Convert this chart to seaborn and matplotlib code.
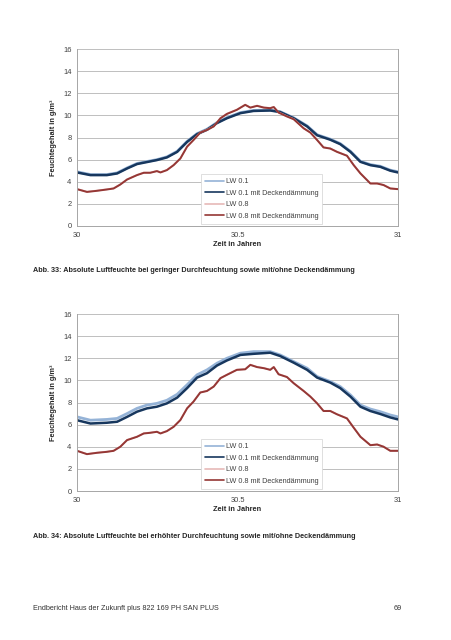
import numpy as np
import pandas as pd
import seaborn as sns
import matplotlib.pyplot as plt

# time axis (years) for the blue and the red curves
t_blue = [30.0, 30.042, 30.093, 30.125, 30.156, 30.187, 30.218, 30.249, 30.280, 30.312,
          30.343, 30.374, 30.405, 30.436, 30.467, 30.509, 30.550, 30.602, 30.633, 30.675,
          30.717, 30.748, 30.789, 30.820, 30.852, 30.883, 30.914, 30.945, 30.976, 31.0]
t_red = [30.0, 30.031, 30.062, 30.093, 30.114, 30.135, 30.156, 30.187, 30.208, 30.228,
         30.249, 30.260, 30.280, 30.301, 30.322, 30.343, 30.363, 30.384, 30.405, 30.426,
         30.447, 30.467, 30.498, 30.524, 30.540, 30.561, 30.582, 30.602, 30.613, 30.628,
         30.654, 30.675, 30.706, 30.727, 30.748, 30.768, 30.789, 30.810, 30.841, 30.862,
         30.883, 30.914, 30.935, 30.955, 30.976, 31.0]

# Abb. 33 - geringe Durchfeuchtung
lw01_a = [4.9, 4.65, 4.65, 4.8, 5.25, 5.65, 5.83, 6.0, 6.25, 6.75, 7.65, 8.35, 8.75, 9.35, 9.8,
          10.25, 10.45, 10.48, 10.33, 9.78, 9.05, 8.25, 7.85, 7.45, 6.75, 5.85, 5.55, 5.4, 5.05, 4.9]
lw01_mit_a = [4.84, 4.6, 4.6, 4.75, 5.2, 5.6, 5.78, 5.96, 6.2, 6.7, 7.6, 8.3, 8.7, 9.3, 9.74,
              10.2, 10.4, 10.44, 10.3, 9.74, 9.0, 8.2, 7.8, 7.4, 6.7, 5.8, 5.5, 5.35, 5.0, 4.84]
lw08_a = [3.35, 3.1, 3.2, 3.32, 3.41, 3.77, 4.22, 4.62, 4.83, 4.83, 4.98, 4.86, 5.07, 5.52, 6.12,
          7.19, 7.79, 8.46, 8.7, 9.02, 9.76, 10.15, 10.52, 10.97, 10.72, 10.88, 10.72, 10.67, 10.77,
          10.27, 9.92, 9.67, 8.85, 8.46, 7.79, 7.12, 7.02, 6.72, 6.37, 5.52, 4.77, 3.86, 3.86, 3.72,
          3.41, 3.35]
lw08_mit_a = [3.33, 3.08, 3.18, 3.3, 3.39, 3.75, 4.2, 4.6, 4.81, 4.81, 4.96, 4.84, 5.05, 5.5, 6.1,
              7.17, 7.77, 8.44, 8.68, 9.0, 9.74, 10.13, 10.5, 10.95, 10.7, 10.86, 10.7, 10.65, 10.75,
              10.25, 9.9, 9.65, 8.83, 8.44, 7.77, 7.1, 7.0, 6.7, 6.35, 5.5, 4.75, 3.84, 3.84, 3.7,
              3.39, 3.33]

# Abb. 34 - erhoehte Durchfeuchtung
lw01_b = [6.7, 6.4, 6.47, 6.56, 7.0, 7.47, 7.77, 7.92, 8.2, 8.74, 9.6, 10.5, 10.95, 11.55, 12.0,
          12.46, 12.6, 12.6, 12.3, 11.7, 11.1, 10.35, 9.9, 9.44, 8.68, 7.77, 7.41, 7.17, 6.87, 6.7]
lw01_mit_b = [6.4, 6.1, 6.17, 6.26, 6.7, 7.17, 7.47, 7.62, 7.92, 8.44, 9.3, 10.25, 10.65, 11.34, 11.8,
              12.3, 12.4, 12.5, 12.2, 11.6, 10.95, 10.25, 9.8, 9.3, 8.53, 7.62, 7.23, 6.96, 6.65, 6.47]
lw08_b = [3.65, 3.35, 3.47, 3.56, 3.65, 4.02, 4.62, 4.92, 5.22, 5.28, 5.37, 5.22, 5.43, 5.82, 6.43,
          7.49, 8.1, 8.92, 9.06, 9.46, 10.22, 10.52, 10.97, 11.02, 11.42, 11.22, 11.12, 10.97, 11.22,
          10.57, 10.32, 9.76, 9.06, 8.55, 7.94, 7.25, 7.25, 6.95, 6.58, 5.74, 4.92, 4.16, 4.22, 4.02,
          3.65, 3.65]
lw08_mit_b = [3.63, 3.33, 3.45, 3.54, 3.63, 4.0, 4.6, 4.9, 5.2, 5.26, 5.35, 5.2, 5.41, 5.8, 6.41,
              7.47, 8.08, 8.9, 9.04, 9.44, 10.2, 10.5, 10.95, 11.0, 11.4, 11.2, 11.1, 10.95, 11.2,
              10.55, 10.3, 9.74, 9.04, 8.53, 7.92, 7.23, 7.23, 6.93, 6.56, 5.72, 4.9, 4.14, 4.2, 4.0,
              3.63, 3.63]

labels = ["LW 0.1", "LW 0.1 mit Deckendämmung", "LW 0.8", "LW 0.8 mit Deckendämmung"]
colors = ["#95B3D7", "#17375E", "#E6B9B8", "#953735"]
widths = [2.0, 1.8, 1.3, 1.4]

captions = ["Abb. 33: Absolute Luftfeuchte bei geringer Durchfeuchtung sowie mit/ohne Deckendämmung",
            "Abb. 34: Absolute Luftfeuchte bei erhöhter Durchfeuchtung sowie mit/ohne Deckendämmung"]
footer = "Endbericht Haus der Zukunft plus 822 169 PH SAN PLUS"
page = "69"

sns.set_style("white")
plt.rcParams['font.family'] = ['Liberation Sans', 'DejaVu Sans']

fig = plt.figure(figsize=(4.52, 6.4), dpi=100)


def draw_chart(ax, series):
    for (t, vals), lab, col, w in zip(series, labels, colors, widths):
        df = pd.DataFrame({"Zeit": t, "Wert": vals})
        sns.lineplot(data=df, x="Zeit", y="Wert", ax=ax, color=col, lw=w, label=lab)
    ax.set_xlim(30, 31)
    ax.set_ylim(0, 16)
    ax.set_xticks([30, 30.5, 31])
    ax.set_xticklabels(["30", "30.5", "31"])
    ax.set_yticks(range(0, 17, 2))
    ax.yaxis.grid(True, color="#BFBFBF", lw=0.7)
    ax.xaxis.grid(False)
    ax.set_axisbelow(True)
    for side in ["left", "bottom", "right"]:
        ax.spines[side].set_color("#A6A6A6")
        ax.spines[side].set_linewidth(0.7)
    ax.spines["top"].set_visible(False)
    ax.tick_params(labelsize=5.4, colors="#404040", length=0, pad=4)
    ax.set_xlabel("Zeit in Jahren", fontsize=5.3, fontweight="bold", labelpad=2)
    ax.set_ylabel("Feuchtegehalt in g/m³", fontsize=5.3, fontweight="bold", labelpad=4)
    leg = ax.legend(loc="lower left", bbox_to_anchor=(0.386, 0.012), fontsize=5.2,
                    frameon=True, fancybox=False, framealpha=1, edgecolor="#D9D9D9",
                    handlelength=2.6, handletextpad=0.3, labelspacing=0.62,
                    borderpad=0.55, borderaxespad=0)
    leg.get_frame().set_linewidth(0.6)
    for line in leg.get_lines():
        line.set_linewidth(1.2)
    for txt in leg.get_texts():
        txt.set_color("#404040")


ax1 = fig.add_axes([77 / 452, 1 - 226 / 640, 321 / 452, 177 / 640])
draw_chart(ax1, [(t_blue, lw01_a), (t_blue, lw01_mit_a), (t_red, lw08_a), (t_red, lw08_mit_a)])

ax2 = fig.add_axes([77 / 452, 1 - 491 / 640, 321 / 452, 177 / 640])
draw_chart(ax2, [(t_blue, lw01_b), (t_blue, lw01_mit_b), (t_red, lw08_b), (t_red, lw08_mit_b)])

fig.text(33 / 452, 1 - 270 / 640, captions[0], fontsize=5.2, fontweight="bold", va="center")
fig.text(33 / 452, 1 - 537 / 640, captions[1], fontsize=5.2, fontweight="bold", va="center")
fig.text(33 / 452, 1 - 608 / 640, footer, fontsize=5.2, color="#333333", va="center")
fig.text(402 / 452, 1 - 608 / 640, page, fontsize=5.2, color="#333333", va="center", ha="right")

fig.savefig("out.png", dpi=100, facecolor="white")
